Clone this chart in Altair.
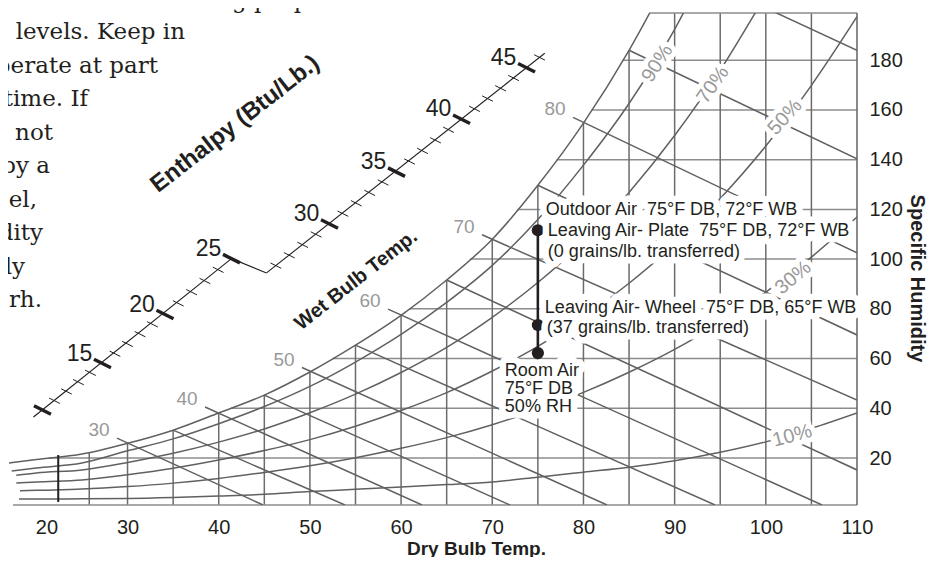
import altair as alt
import numpy as np
import pandas as pd

# ------------------------------------------------------------------
# Values
# ------------------------------------------------------------------
# dry-bulb temperatures (deg F) at which the RH curves were read
db_temps = [17, 20, 25, 30, 35, 40, 45, 50, 55, 60, 65, 70, 75, 80, 85, 90, 95, 100, 105, 110]

# relative-humidity curves, specific humidity in grains/lb
rh_levels = [100, 90, 70, 50, 30, 10]
rh_first_temp = [17.0, 17.3, 17.8, 17.8, 18.2, 18.1]
rh_100 = [18.0, 19.4, 21.6, 25.9, 31.2, 38.1, 45.3, 54.6, 65.4, 77.4, 91.6, 108.0, 129.7, 154.7, 184.0, 218.0]
rh_90 = [14.8, 16.0, 18.0, 22.9, 27.7, 33.8, 40.7, 48.8, 58.6, 69.7, 82.6, 97.5, 115.9, 137.8, 162.6, 192.4, 229.0]
rh_70 = [13.1, 14.0, 15.2, 18.2, 21.9, 26.4, 31.7, 38.2, 45.7, 54.4, 64.5, 76.6, 90.6, 106.9, 126.8, 149.7, 176.0, 206.3]
rh_50 = [9.9, 10.4, 11.2, 13.3, 15.9, 19.2, 23.0, 27.4, 32.8, 39.1, 46.3, 55.0, 64.9, 76.6, 90.3, 106.0, 124.4, 145.5, 169.9, 197.5]
rh_30 = [6.8, 7.0, 7.5, 8.5, 9.9, 11.8, 14.2, 16.9, 20.1, 23.9, 28.2, 33.4, 39.5, 46.4, 54.5, 63.7, 74.5, 86.7, 100.8, 116.9]
rh_10 = [3.5, 3.5, 3.6, 3.7, 4.1, 4.7, 5.4, 6.5, 7.4, 8.3, 9.3, 10.4, 12.3, 14.3, 16.3, 18.9, 22.3, 26.5, 31.9, 38.1]
rh_curves = [rh_100, rh_90, rh_70, rh_50, rh_30, rh_10]

rh_label_text = ["90%", "70%", "50%", "30%", "10%"]
rh_label_temp = [88.1, 94.2, 102.1, 103.0, 102.9]
rh_label_grains = [178.7, 170.1, 157.1, 92.5, 28.9]

# grid of the chart
db_grid = [25.8, 30, 35, 40, 45, 50, 55, 60, 65, 70, 75, 80, 85, 90, 95, 100, 105]
sh_grid = [20, 40, 60, 80, 100, 120, 140, 160, 180]
chart_top = 199
chart_bottom = 1.1
chart_right = 110
chart_bottom_start = 17.44
freeze_mark_temp = 22.4
freeze_mark_grains = [2.3, 21.2]

# wet bulb lines
wb_values = [30, 35, 40, 45, 50, 55, 60, 65, 70, 75, 80, 85, 90]
wb_start_temp = [28.84, 35, 38.5, 45, 49.13, 55, 58.57, 65, 68.88, 75, 78.86, 85, 90]
wb_start_grains = [28.0, 31.2, 40.5, 45.3, 56.4, 65.4, 79.9, 91.6, 109.8, 129.7, 157.0, 184.0, 218.0]
wb_end_temp = [44.86, 53.85, 62.3, 71.95, 82.58, 94.43, 106.17, 110, 110, 110, 110, 110, 110]
wb_end_grains = [1.1, 1.1, 1.1, 1.1, 1.1, 1.1, 1.1, 15.2, 43.3, 69.5, 102.5, 140.3, 184.0]
wb_labelled = [30, 40, 50, 60, 70, 80]

# enthalpy scale (Btu/lb), major ticks placed on the chart
enth_major = [10, 15, 20, 25, 30, 35, 40, 45]
enth_major_temp = [20.67, 27.25, 34.11, 41.40, 52.15, 59.50, 66.63, 73.76]
enth_major_grains = [39.3, 58.0, 77.7, 100.2, 114.1, 135.0, 156.3, 177.0]
enth_lower_range = [9.25, 25]
enth_upper_range = [25.3, 46.4]
enth_labels = [15, 20, 25, 30, 35, 40, 45]

# air states (75 F dry bulb)
state_temp = [75, 75, 75]
state_grains = [111.6, 73.5, 62.2]

ann_text = [
    "Outdoor Air\u00a0 75°F DB, 72°F WB",
    "Leaving Air- Plate\u00a0 75°F DB, 72°F WB",
    "(0 grains/lb. transferred)",
    "Leaving Air- Wheel\u00a0 75°F DB, 65°F WB",
    "(37 grains/lb. transferred)",
    "Room Air",
    "75°F DB",
    "50% RH",
]
ann_state = [0, 0, 0, 1, 1, 2, 2, 2]

para_text = [
    "tant for maintaining proper",
    "levels. Keep in",
    "perate at part",
    "time. If",
    "s not",
    "by a",
    "el,",
    "dity",
    "ely",
    "rh.",
]

x_tick_values = [21.1, 30, 40, 50, 60, 70, 80, 90, 100, 110]
y_tick_values = [20, 40, 60, 80, 100, 120, 140, 160, 180]

# ------------------------------------------------------------------
# Tables
# ------------------------------------------------------------------
sat_T = db_temps[: len(rh_100)]

curve_rows = []
for lvl, start, vals in zip(rh_levels, rh_first_temp, rh_curves):
    for i, w in enumerate(vals):
        curve_rows.append({"T": start if i == 0 else db_temps[i], "W": w, "curve": f"rh{lvl}", "i": i})
curves_df = pd.DataFrame(curve_rows)

vgrid_df = pd.DataFrame({
    "T": db_grid,
    "W": [chart_bottom] * len(db_grid),
    "W2": [min(float(np.interp(t, sat_T, rh_100)), chart_top) for t in db_grid],
})
hgrid_df = pd.DataFrame({
    "T": [float(np.interp(w, rh_100, sat_T)) for w in sh_grid],
    "T2": [chart_right] * len(sh_grid),
    "W": sh_grid,
})
border_h_df = pd.DataFrame({
    "T": [chart_bottom_start, float(np.interp(chart_top, rh_100, sat_T))],
    "T2": [chart_right, chart_right],
    "W": [chart_bottom, chart_top],
})
border_v_df = pd.DataFrame({"T": [chart_right], "W": [chart_bottom], "W2": [chart_top]})
freeze_df = pd.DataFrame({"T": [freeze_mark_temp], "W": [freeze_mark_grains[0]], "W2": [freeze_mark_grains[1]]})

wb_df = pd.DataFrame({"T": wb_start_temp, "W": wb_start_grains, "T2": wb_end_temp, "W2": wb_end_grains,
                      "wb": wb_values})
wb_lab_df = wb_df[wb_df["wb"].isin(wb_labelled)].assign(label=lambda d: d["wb"].astype(str))

rh_lab_df = pd.DataFrame({"T": rh_label_temp, "W": rh_label_grains, "label": rh_label_text,
                          "ang": [303, 305, 312, 320, 345]})


def seg_pos(h, hs, ts, ws):
    if h < hs[0]:
        k = (h - hs[0]) / (hs[1] - hs[0])
        return ts[0] + k * (ts[1] - ts[0]), ws[0] + k * (ws[1] - ws[0])
    if h > hs[-1]:
        k = (h - hs[-2]) / (hs[-1] - hs[-2])
        return ts[-2] + k * (ts[-1] - ts[-2]), ws[-2] + k * (ws[-1] - ws[-2])
    return float(np.interp(h, hs, ts)), float(np.interp(h, hs, ws))


low_h, low_t, low_w = enth_major[:4], enth_major_temp[:4], enth_major_grains[:4]
up_h, up_t, up_w = enth_major[4:], enth_major_temp[4:], enth_major_grains[4:]


def enth_pos(h, upper):
    return seg_pos(h, up_h, up_t, up_w) if upper else seg_pos(h, low_h, low_t, low_w)


enth_rows = []
a0, a1 = enth_pos(enth_lower_range[0], False), enth_pos(enth_lower_range[1], False)
b0, b1 = enth_pos(enth_upper_range[0], True), enth_pos(enth_upper_range[1], True)
for p, q in [(a0, a1), (a1, b0), (b0, b1)]:
    enth_rows.append({"T": p[0], "W": p[1], "T2": q[0], "W2": q[1], "sw": 1.1})
tick_h = [(h, False) for h in range(10, 26)] + [(h, True) for h in range(26, 47)]
for h, upper in tick_h:
    t, w = enth_pos(h, upper)
    major = h % 5 == 0
    dt, dw = (0.931, 1.708) if major else (0.588, 1.079)
    enth_rows.append({"T": t - dt, "W": w + dw, "T2": t + dt, "W2": w - dw, "sw": 3.4 if major else 1.0})
enth_df = pd.DataFrame(enth_rows)

enth_lab_df = pd.DataFrame([
    {"T": enth_pos(h, h >= 30)[0], "W": enth_pos(h, h >= 30)[1], "label": str(h)} for h in enth_labels
])

states_df = pd.DataFrame({"T": state_temp, "W": state_grains})
connector_df = pd.DataFrame({"T": [state_temp[0]], "W": [min(state_grains)], "W2": [max(state_grains)]})

# ------------------------------------------------------------------
# Chart
# ------------------------------------------------------------------
FONT = "Liberation Sans"
INK = "#231f20"
CURVE = "#606060"
VLINE = "#6c6c6c"
HLINE = "#8c8c8c"
SOFT = "#999999"

xs = alt.Scale(domain=[17, 110], nice=False, zero=False)
ys = alt.Scale(domain=[chart_bottom, chart_top], nice=False, zero=False)

x_enc = alt.X("T:Q", scale=xs, axis=alt.Axis(
    values=x_tick_values,
    labelExpr="datum.value < 25 ? '20' : format(datum.value, 'd')",
    title="Dry Bulb Temp.", titleFont=FONT, titleFontSize=19, titleFontWeight="bold", titleColor=INK,
    titleX=467, titleY=49, titleAlign="center", titleBaseline="alphabetic",
    labelFont=FONT, labelFontSize=20, labelColor=INK, labelPadding=12, labelFlush=False,
    domain=False, ticks=False, grid=False))
y_enc = alt.Y("W:Q", scale=ys, axis=alt.Axis(
    orient="right", values=y_tick_values,
    title="Specific Humidity", titleFont=FONT, titleFontSize=20, titleFontWeight="bold", titleColor=INK,
    titleAngle=90, titleX=59, titleY=265, titleAlign="center", titleBaseline="middle",
    labelFont=FONT, labelFontSize=20, labelColor=INK, labelAlign="left", labelBaseline="middle",
    labelPadding=12, labelFlush=False, domain=False, ticks=False, grid=False))

layers = []

layers.append(alt.Chart(hgrid_df).mark_rule(color=HLINE, strokeWidth=1.5).encode(x2="T2:Q"))
layers.append(alt.Chart(vgrid_df).mark_rule(color=VLINE, strokeWidth=1.5).encode(y2="W2:Q"))
layers.append(alt.Chart(border_h_df).mark_rule(color=HLINE, strokeWidth=1.6).encode(x2="T2:Q"))
layers.append(alt.Chart(border_v_df).mark_rule(color=VLINE, strokeWidth=1.6).encode(y2="W2:Q"))
layers.append(alt.Chart(curves_df).mark_line(color=CURVE, strokeWidth=1.5, interpolate="monotone", clip=True)
              .encode(detail="curve:N", order="i:Q"))
layers.append(alt.Chart(wb_df).mark_rule(color=CURVE, strokeWidth=1.5, clip=True).encode(x2="T2:Q", y2="W2:Q"))
layers.append(alt.Chart(freeze_df).mark_rule(color=INK, strokeWidth=2).encode(y2="W2:Q"))

# enthalpy scale
layers.append(alt.Chart(enth_df).mark_rule(color=INK).encode(
    x2="T2:Q", y2="W2:Q", strokeWidth=alt.StrokeWidth("sw:Q", scale=None)))
layers.append(alt.Chart(enth_lab_df).mark_text(font=FONT, fontSize=23, color=INK, dx=-23, dy=-10,
                                               align="center", baseline="middle").encode(text="label:N"))

# RH labels with white halo
layers.append(alt.Chart(rh_lab_df).mark_text(font=FONT, fontSize=20, color="white", stroke="white",
                                             strokeWidth=10, strokeJoin="round", align="center",
                                             baseline="middle").encode(text="label:N",
                                                                       angle=alt.Angle("ang:Q", scale=None)))
layers.append(alt.Chart(rh_lab_df).mark_text(font=FONT, fontSize=20, color=SOFT, align="center",
                                             baseline="middle").encode(text="label:N",
                                                                       angle=alt.Angle("ang:Q", scale=None)))
# wet bulb labels
layers.append(alt.Chart(wb_lab_df).mark_text(font=FONT, fontSize=19, color=SOFT, dx=-18, dy=-8,
                                             align="center", baseline="middle").encode(text="label:N"))

# process line and states
layers.append(alt.Chart(connector_df).mark_rule(color=INK, strokeWidth=2.6).encode(y2="W2:Q"))
layers.append(alt.Chart(states_df).mark_circle(color=INK, opacity=1, size=150))

ann_offsets = [(8, -20), (10, 1), (10, 22), (7, -17.5), (9, 2.5), (-33, 18), (-33, 35.5), (-33, 53.5)]
for txt, si, (dx, dy) in zip(ann_text, ann_state, ann_offsets):
    d = pd.DataFrame({"T": [state_temp[si]], "W": [state_grains[si]], "label": [txt]})
    layers.append(alt.Chart(d).mark_text(font=FONT, fontSize=18, color="white", stroke="white", strokeWidth=13,
                                         strokeJoin="round", align="left", baseline="middle", dx=dx, dy=dy)
                  .encode(text="label:N"))
for txt, si, (dx, dy) in zip(ann_text, ann_state, ann_offsets):
    d = pd.DataFrame({"T": [state_temp[si]], "W": [state_grains[si]], "label": [txt]})
    layers.append(alt.Chart(d).mark_text(font=FONT, fontSize=18, color=INK, align="left", baseline="middle",
                                         dx=dx, dy=dy).encode(text="label:N"))

# rotated scale titles
titles_df = pd.DataFrame({"T": [41.8, 55.06], "W": [154.3, 91.6],
                          "label": ["Enthalpy (Btu/Lb.)", "Wet Bulb Temp."], "fs": [24, 20]})
layers.append(alt.Chart(titles_df).mark_text(font=FONT, fontWeight="bold", color=INK, angle=322,
                                             align="center", baseline="middle")
              .encode(text="label:N", size=alt.Size("fs:Q", scale=None)))

# page text behind the chart (cropped paragraph)
para_right = [333, 185, 158, 88, 53, 50, 37, 43, 25, 42]
para_base = [8, 39, 72.5, 106, 139.5, 173, 206.5, 240, 273.5, 307]
for txt, r, b in zip(para_text, para_right, para_base):
    layers.append(alt.Chart(alt.Data(values=[{"k": 1}])).mark_text(
        font="DejaVu Serif", fontSize=23, color=INK, align="right", baseline="alphabetic")
        .encode(x=alt.value(r - 9), y=alt.value(b - 13), text=alt.value(txt)))

chart = (
    alt.layer(*layers)
    .encode(x=x_enc, y=y_enc)
    .properties(width=848, height=492, autosize="none",
                padding={"left": 1, "top": 5, "right": 70, "bottom": 52}, background="white")
    .configure_view(stroke=None)
)

chart.save("out.html", embed_options={"renderer": "svg", "actions": False})
